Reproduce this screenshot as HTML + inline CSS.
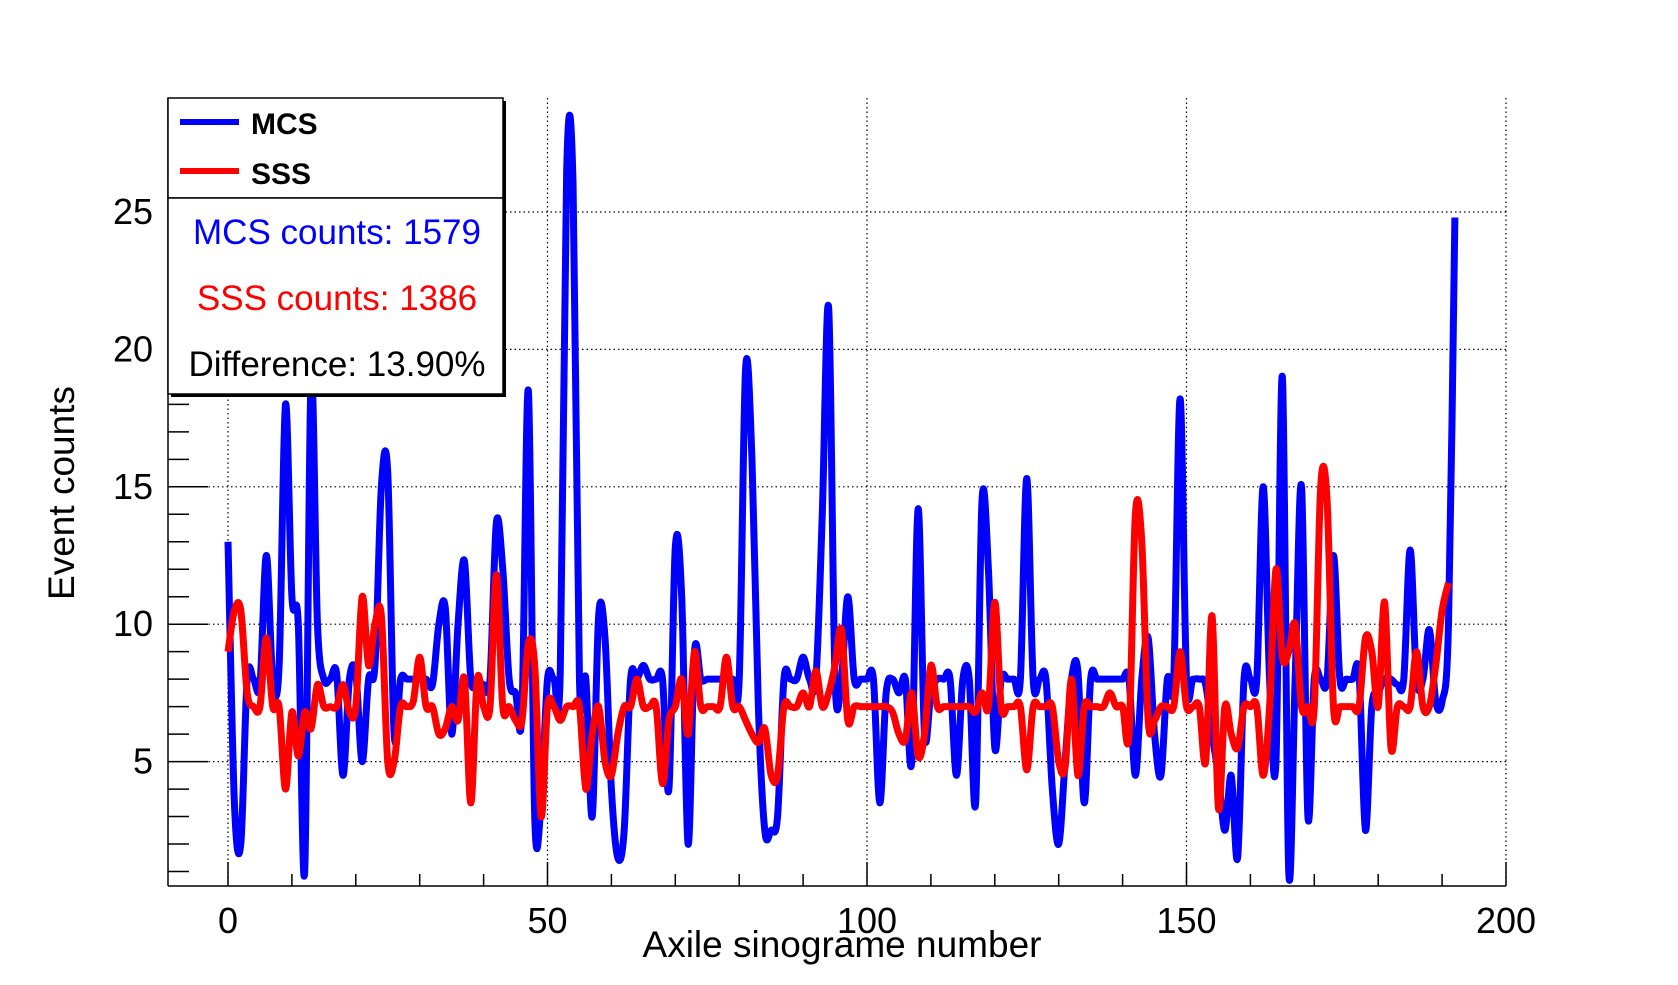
<!DOCTYPE html>
<html><head><meta charset="utf-8"><style>
html,body{margin:0;padding:0;background:#fff;}
svg{display:block;font-family:"Liberation Sans",sans-serif;}
</style></head><body>
<svg id="chart" width="1678" height="985" viewBox="0 0 1678 985" xmlns="http://www.w3.org/2000/svg">
<g id="grid"></g>
<g id="axes"></g>
<g id="series"></g>
<text x="842" y="957" font-size="37" text-anchor="middle">Axile sinograme number</text>
<text transform="translate(74,493) rotate(-90)" font-size="37" text-anchor="middle">Event counts</text>
<g>
<rect x="171" y="101" width="335" height="100" fill="#000"/>
<rect x="168" y="98" width="335" height="100" fill="#fff" stroke="#000" stroke-width="1.5"/>
<line x1="180" y1="122" x2="239" y2="122" stroke="#0000ff" stroke-width="6"/>
<text x="251" y="134" font-size="30" font-weight="bold">MCS</text>
<line x1="180" y1="171" x2="239" y2="171" stroke="#ff0000" stroke-width="6"/>
<text x="251" y="184" font-size="30" font-weight="bold">SSS</text>
</g>
<g>
<rect x="171" y="201" width="335" height="196" fill="#000"/>
<rect x="168" y="198" width="335" height="196" fill="#fff" stroke="#000" stroke-width="1.5"/>
<text x="337" y="244" font-size="35" fill="#0000ff" text-anchor="middle">MCS counts: 1579</text>
<text x="337" y="310" font-size="35" fill="#ff0000" text-anchor="middle">SSS counts: 1386</text>
<text x="337" y="376" font-size="35" fill="#000" text-anchor="middle">Difference: 13.90%</text>
</g>
</svg>
<script>
const xTicks=[0,50,100,150,200];
const yTicks=[5,10,15,20,25];
const mcs=[13,3.5,2,8,8,7.8,12.5,8,8.5,18,11,10,1,19,10,8,8,8.2,4.5,8,8.2,5,8,8.5,15,15.5,6,8,8,8,8,8,7.8,10,10.6,6,10,12.3,8,8,7.8,8,13.7,12,8,7.5,6.8,18.5,3,3.5,8,8,8.3,26.5,26,8,8,3,10.3,9.5,4,1.5,2.5,8,8,8.5,8,8,8,4,12.8,11,2,9,8,8,8,8,8,8,8,19.3,16,7,2.5,2.5,3,8,8,8,8.8,8,8,14,21.5,8,8,11,8,8,8,8,3.5,7.5,8,7.5,8,5,14.2,6,7.5,8,8,8,4.5,8,8,3.5,14.5,12,5.5,8,8,8,8,15.3,8,8,8,4,2,5,8,8.3,3.5,8,8,8,8,8,8,8,4.5,8,9.5,6,4.5,8,8,18.2,8,8,8,7.8,6,4.5,2.5,4.5,1.5,8,8,8,15,8,5,19,1,8,15,3,8,8,8,12.5,8,8,8,8.2,2.5,7,7.5,8,8,7.8,8,12.7,8,8,9.8,7.2,7.2,10,24.8];
const sss=[9,10.5,10.5,7.5,7,7,9.5,7,7,4,6.8,5.2,6.8,6.2,7.8,7,7,7,7.8,6.8,7,11,8.5,10,10.3,5,5,7,7,7.2,8.8,7,7,6,6.2,7,6.5,8,3.5,8,7,7,11.8,7,7,6.5,6.5,9.3,8.5,3,7,7,6.5,7,7,7,4,6,7,5,4.5,6,7,7,8,7,7,7,4.2,6.5,7,8,6,9,7,7,7,7,8.8,7,7,6.5,6,5.7,6.2,4.5,4.5,7,7,7,7.5,7,8.3,7,7.5,8.5,9.8,6.5,7,7,7,7,7,7,6.8,6,5.8,7.5,5.2,6,8.5,7,7,7,7,7,7,6.8,7.5,7,10.8,7,7,7,7,4.7,7,7,7,7,5,4.8,8,4.5,7,7,7,7,7.5,7,7,6,14,13,6.5,6.5,7,7,7,9,7,7,7,5,10.3,3.3,7,6,5.5,7,7,7,4.5,7,12,8.8,9,10,7,7,7,15,14.5,7,7,7,7,7,9.5,9,7,10.8,5.5,7,7,7,9,7,7,8.5,10.5,11.5];
const NS='http://www.w3.org/2000/svg';
const L=168,R=1506,T=98,B=886;
const X=v=>228+v*6.39;
const Y=v=>899-v*27.48;
function mk(tag,attrs,parent){const e=document.createElementNS(NS,tag);for(const k in attrs)e.setAttribute(k,attrs[k]);parent.appendChild(e);return e;}
const grid=document.getElementById('grid'),axes=document.getElementById('axes'),series=document.getElementById('series');
xTicks.forEach(t=>{
  const g=mk('line',{x1:X(t),x2:X(t),y1:T,y2:B,stroke:'#000','stroke-width':1.2,'stroke-dasharray':'1.5 3'},grid);
  
  
  const lb=mk('text',{x:X(t),y:933,'font-size':36,'text-anchor':'middle'},axes);
  lb.textContent=t;
  
  
});
yTicks.forEach(t=>{
  const g=mk('line',{x1:L,x2:R,y1:Y(t),y2:Y(t),stroke:'#000','stroke-width':1.2,'stroke-dasharray':'1.5 3'},grid);
  
  
  const lb=mk('text',{x:153,y:Y(t)+12,'font-size':36,'text-anchor':'end'},axes);
  lb.textContent=t;
  
  
});
for(let v=-10;v<=200;v+=10){if(X(v)<L)continue;const maj=v%50===0;mk('line',{x1:X(v),x2:X(v),y1:B,y2:B-(maj?24:12),stroke:'#000','stroke-width':1.5},axes);}
for(let v=1;v<=29;v++){const maj=v%5===0;mk('line',{x1:L,x2:L+(maj?40:21),y1:Y(v),y2:Y(v),stroke:'#000','stroke-width':1.5},axes);}
const xa=mk('line',{x1:L,x2:R,y1:B,y2:B,stroke:'#000','stroke-width':1.5},axes);


const ya=mk('line',{x1:L,x2:L,y1:T,y2:B,stroke:'#000','stroke-width':1.5},axes);


function smooth(arr){
  const p=arr.map((v,i)=>[X(i),Y(v)]);
  let d='M'+p[0][0]+','+p[0][1];
  for(let i=0;i<p.length-1;i++){
    const p0=p[Math.max(0,i-1)],p1=p[i],p2=p[i+1],p3=p[Math.min(p.length-1,i+2)];
    const c1=[p1[0]+(p2[0]-p0[0])/6,p1[1]+(p2[1]-p0[1])/6];
    const c2=[p2[0]-(p3[0]-p1[0])/6,p2[1]-(p3[1]-p1[1])/6];
    d+='C'+c1[0]+','+c1[1]+' '+c2[0]+','+c2[1]+' '+p2[0]+','+p2[1];
  }
  return d;
}
const cp=mk('clipPath',{id:'clip'},document.getElementById('chart'));
mk('rect',{x:L,y:T-10,width:R-L+40,height:B-T+10},cp);
const lm=mk('path',{d:smooth(mcs),fill:'none',stroke:'#0000ff','stroke-width':7,'stroke-linejoin':'round','clip-path':'url(#clip)'},series);


const ls=mk('path',{d:smooth(sss),fill:'none',stroke:'#ff0000','stroke-width':7,'stroke-linejoin':'round','clip-path':'url(#clip)'},series);


</script>
</body></html>
